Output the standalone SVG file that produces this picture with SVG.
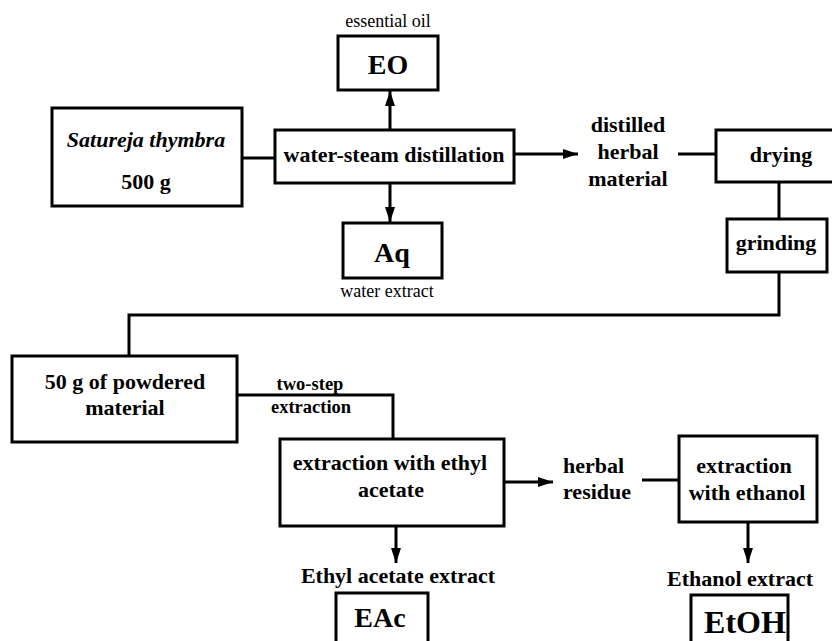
<svg xmlns="http://www.w3.org/2000/svg" width="832" height="641" viewBox="0 0 832 641">
<style>
.box{fill:#fff;stroke:#000;stroke-width:3}
.ln{fill:none;stroke:#000;stroke-width:3}
.t{font-family:"Liberation Serif","Times New Roman",serif;font-weight:bold;font-size:22px;fill:#000;text-anchor:middle}
.big{font-size:28px}
.sm{font-weight:normal;font-size:18px}
.mid{font-size:18.5px}
.st{text-anchor:start}
</style>
<defs>
<marker id="ah" markerUnits="userSpaceOnUse" markerWidth="16" markerHeight="12" refX="15" refY="5" orient="auto">
<path d="M0,0 L15,5 L0,10 z" fill="#000"/>
</marker>
</defs>
<rect width="832" height="641" fill="#fff"/>
<g id="connectors">
<line class="ln" x1="242" y1="158" x2="275" y2="158"/>
<line class="ln" x1="390" y1="130" x2="390" y2="91" marker-end="url(#ah)"/>
<line class="ln" x1="390" y1="183" x2="390" y2="222" marker-end="url(#ah)"/>
<line class="ln" x1="514" y1="154" x2="578" y2="154" marker-end="url(#ah)"/>
<line class="ln" x1="678" y1="154" x2="716" y2="154"/>
<line class="ln" x1="779" y1="182" x2="779" y2="219"/>
<polyline class="ln" points="779,272 779,315 129,315 129,356"/>
<polyline class="ln" points="237,395 393,395 393,439"/>
<line class="ln" x1="396" y1="526" x2="396" y2="563" marker-end="url(#ah)"/>
<line class="ln" x1="504" y1="482" x2="553" y2="482" marker-end="url(#ah)"/>
<line class="ln" x1="642" y1="480" x2="679" y2="480"/>
<line class="ln" x1="748" y1="523" x2="748" y2="563" marker-end="url(#ah)"/>
</g>
<g id="satureja">
<rect class="box" x="52" y="108" width="190" height="98"/>
<text class="t" x="146" y="147" font-style="italic">Satureja thymbra</text>
<text class="t" x="146" y="189">500 g</text>
</g>
<g id="distillation">
<rect class="box" x="275" y="130" width="239" height="53"/>
<text class="t" x="394" y="162">water-steam distillation</text>
</g>
<g id="eo">
<text class="t sm" x="388" y="27">essential oil</text>
<rect class="box" x="338" y="36" width="100" height="54"/>
<text class="t big" x="388" y="74">EO</text>
</g>
<g id="aq">
<rect class="box" x="343" y="223" width="99" height="55"/>
<text class="t big" x="392" y="262">Aq</text>
<text class="t sm" x="387" y="297">water extract</text>
</g>
<g id="distilled">
<text class="t" x="628" y="132">distilled</text>
<text class="t" x="628" y="159">herbal</text>
<text class="t" x="628" y="186">material</text>
</g>
<g id="drying">
<rect class="box" x="716" y="130" width="124" height="52"/>
<text class="t" x="781" y="162">drying</text>
</g>
<g id="grinding">
<rect class="box" x="727" y="219" width="100" height="53"/>
<text class="t" x="776" y="250">grinding</text>
</g>
<g id="powdered">
<rect class="box" x="12" y="356" width="225" height="86"/>
<text class="t" x="125" y="389">50 g of powdered</text>
<text class="t" x="125" y="415">material</text>
</g>
<g id="twostep">
<text class="t mid" x="310" y="390">two-step</text>
<text class="t mid" x="311" y="413">extraction</text>
</g>
<g id="ethylacetate">
<rect class="box" x="280" y="439" width="224" height="87"/>
<text class="t" x="390" y="470">extraction with ethyl</text>
<text class="t" x="391" y="497">acetate</text>
</g>
<g id="eac">
<text class="t" x="398" y="583">Ethyl acetate extract</text>
<rect class="box" x="336" y="593" width="92" height="60"/>
<text class="t big" x="380" y="627">EAc</text>
</g>
<g id="residue">
<text class="t st" x="563" y="473">herbal</text>
<text class="t st" x="563" y="499">residue</text>
</g>
<g id="ethanol">
<rect class="box" x="679" y="436" width="138" height="86"/>
<text class="t" x="744" y="473">extraction</text>
<text class="t" x="747" y="500">with ethanol</text>
</g>
<g id="etoh">
<text class="t" x="740" y="586">Ethanol extract</text>
<rect class="box" x="691" y="595" width="97" height="60"/>
<text class="t big" x="745" y="633" style="font-size:32px">EtOH</text>
</g>
</svg>
